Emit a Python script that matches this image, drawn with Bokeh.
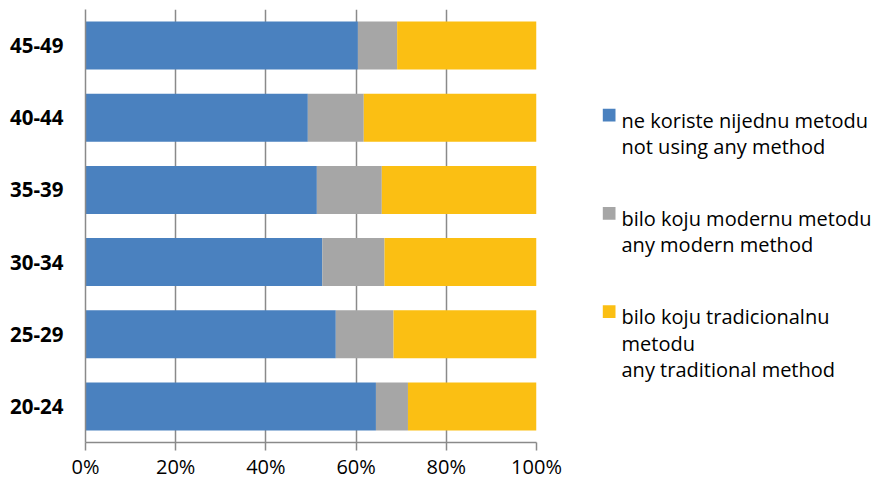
from bokeh.plotting import figure
from bokeh.layouts import row
from bokeh.models import ColumnDataSource, FactorRange, Range1d, PrintfTickFormatter, FixedTicker
from bokeh.core.properties import value
from bokeh.embed import file_html
from bokeh.resources import INLINE

ages = ["20-24", "25-29", "30-34", "35-39", "40-44", "45-49"]
not_using = [64.4, 55.5, 52.5, 51.3, 49.3, 60.4]
modern = [7.1, 12.8, 13.8, 14.4, 12.4, 8.7]
traditional = [28.5, 31.7, 33.7, 34.3, 38.3, 30.9]
x_ticks = [0, 20, 40, 60, 80, 100]
series_labels = [
    ["ne koriste nijednu metodu", "not using any method"],
    ["bilo koju modernu metodu", "any modern method"],
    ["bilo koju tradicionalnu", "metodu", "any traditional method"],
]
colors = ["#4a81bf", "#a6a6a6", "#fbbf13"]

source = ColumnDataSource(dict(age=ages, none=not_using, modern=modern, trad=traditional))

FONT = "Open Sans"
GRID = "#8a8a8a"
TOP, BOTTOM = 9, 40
H = 482

# ---------------- main chart ----------------
p = figure(width=566, height=H, y_range=FactorRange(*ages, range_padding=0),
           x_range=Range1d(0, 100), output_backend="svg", toolbar_location=None,
           min_border_left=85, min_border_right=30, min_border_top=TOP, min_border_bottom=BOTTOM)
p.outline_line_color = None

p.hbar_stack(["none", "modern", "trad"], y="age", height=0.665, color=colors,
             line_color=None, source=source)

p.xaxis.ticker = FixedTicker(ticks=x_ticks)
p.xaxis.formatter = PrintfTickFormatter(format="%d%%")
p.xaxis.axis_line_color = GRID
p.xaxis.axis_line_width = 1.5
p.xaxis.major_tick_line_color = GRID
p.xaxis.major_tick_line_width = 1.5
p.xaxis.major_tick_out = 8
p.xaxis.major_tick_in = 0
p.xaxis.minor_tick_line_color = None
p.xaxis.major_label_standoff = 2
p.xaxis.major_label_text_font = FONT
p.xaxis.major_label_text_font_size = "20px"
p.xaxis.major_label_text_color = "#000000"

p.yaxis.axis_line_color = GRID
p.yaxis.axis_line_width = 1.5
p.yaxis.major_tick_line_color = None
p.yaxis.major_tick_out = 0
p.yaxis.major_tick_in = 0
p.yaxis.minor_tick_line_color = None
p.yaxis.major_label_standoff = 22
p.yaxis.major_label_text_font = FONT
p.yaxis.major_label_text_font_style = "bold"
p.yaxis.major_label_text_font_size = "20.5px"
p.yaxis.major_label_text_color = "#000000"

p.xgrid.ticker = FixedTicker(ticks=x_ticks)
p.xgrid.grid_line_color = GRID
p.xgrid.grid_line_width = 1.5
p.ygrid.grid_line_color = None

# ---------------- legend panel (pixel-like coordinates, y downwards) ----------------
LW = 871 - 566
leg = figure(width=LW, height=H, x_range=Range1d(0, LW), y_range=Range1d(H - BOTTOM, TOP),
             output_backend="svg", toolbar_location=None,
             min_border_left=0, min_border_right=0, min_border_top=TOP, min_border_bottom=BOTTOM)
leg.axis.visible = False
leg.grid.visible = False
leg.outline_line_color = None

first_baseline = 119.5
item_pitch = 98.2
line_pitch = 26.7
sq = 12.7
sq_x = 36.3
sq_drop = 1.5
txt_x = 55

sq_xs, sq_ys, t_xs, t_ys, t_txt = [], [], [], [], []
for i, lines in enumerate(series_labels):
    base = first_baseline + i * item_pitch
    sq_xs.append(sq_x + sq / 2)
    sq_ys.append(base + sq_drop - sq / 2)
    for j, line in enumerate(lines):
        t_xs.append(txt_x)
        t_ys.append(base + j * line_pitch)
        t_txt.append(line)

leg.rect(x=sq_xs, y=sq_ys, width=sq, height=sq, fill_color=colors, line_color=None)
leg.text(x=t_xs, y=t_ys, text=t_txt, text_font=value(FONT), text_font_size="20px",
         text_baseline="alphabetic", text_align="left", text_color="#000000")

layout = row(p, leg, spacing=0)
open("out.html", "w").write(file_html(layout, INLINE))
